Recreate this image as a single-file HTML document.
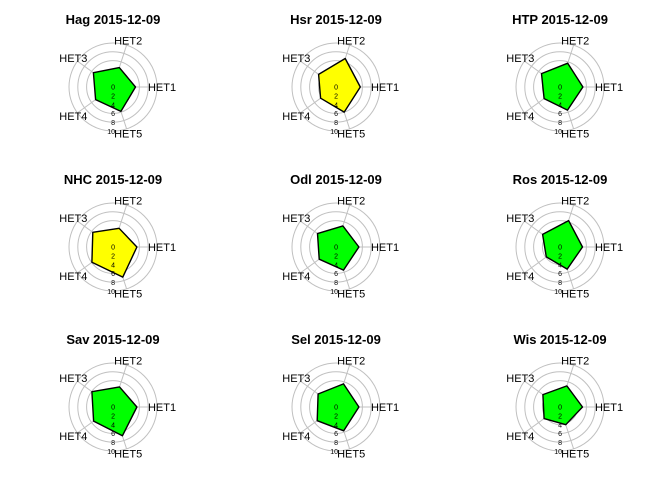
<!DOCTYPE html>
<html><head><meta charset="utf-8"><style>
html,body{margin:0;padding:0;background:#fff;}
svg{display:block;font-family:"Liberation Sans",sans-serif;}
</style></head><body>
<svg id="chart" width="672" height="480" viewBox="0 0 672 480"></svg>
<script>
const sites = ["Hag","Hsr","HTP","NHC","Odl","Ros","Sav","Sel","Wis"];
const dateLabel = "2015-12-09";
const axes = ["HET1","HET2","HET3","HET4","HET5"];
const ringTicks = ["0","2","4","6","8","10"];
const valHag = [3.9,3.3,4.4,3.6,4.8];
const valHsr = [4.4,6.0,3.6,2.9,5.0];
const valHTP = [4.0,4.6,4.0,3.1,4.4];
const valNHC = [4.3,3.1,4.6,4.9,6.5];
const valOdl = [4.0,3.8,4.0,3.4,4.4];
const valRos = [3.9,5.4,3.6,2.3,4.1];
const valSav = [4.3,3.5,4.9,4.3,6.1];
const valSel = [4.0,4.4,3.8,4.1,4.6];
const valWis = [3.9,3.8,3.5,3.1,2.8];
const alerts = ["ok","warn","ok","warn","ok","ok","ok","ok","ok"];
const vmax = 10, seg = 4;

const all = [valHag,valHsr,valHTP,valNHC,valOdl,valRos,valSav,valSel,valWis];
const NS = "http://www.w3.org/2000/svg";
const svg = document.getElementById("chart");
const colX = [113,336,560], rowY = [87,247,407], R = 44;
function mk(tag, attrs, parent){const e=document.createElementNS(NS,tag);for(const k in attrs)e.setAttribute(k,attrs[k]);parent.appendChild(e);return e;}
function rad(v){return R*((1+ (v/vmax)*seg)/(seg+1));}
function ang(i){return i*2*Math.PI/axes.length;}

sites.forEach((s,k)=>{
  const cx = colX[k%3], cy = rowY[Math.floor(k/3)];
  const g = mk("g",{},svg);
  
  
  const t = mk("text",{x:cx,y:cy-63,"text-anchor":"middle","font-size":"13","font-weight":"bold",fill:"#000"},g);
  t.textContent = s+" "+dateLabel;
  
  
  for(let j=0;j<=seg;j++){
    const c = mk("circle",{cx:cx,cy:cy,r:R*(j+1)/(seg+1),fill:"none",stroke:"#c0c0c0","stroke-width":"1"},g);
    
    
  }
  axes.forEach((a,i)=>{
    const th = ang(i);
    const l = mk("line",{x1:cx+R/(seg+1)*Math.cos(th),y1:cy-R/(seg+1)*Math.sin(th),x2:cx+R*Math.cos(th),y2:cy-R*Math.sin(th),stroke:"#c0c0c0","stroke-width":"1"},g);
    
    
  });
  const vals = all[k];
  const pts = vals.map((v,i)=>{const r=rad(v),th=ang(i);return (cx+r*Math.cos(th)).toFixed(1)+","+(cy-r*Math.sin(th)).toFixed(1);}).join(" ");
  const p = mk("polygon",{points:pts,fill:alerts[k]==="warn"?"#ffff00":"#00ff00",stroke:"#000","stroke-width":"1.4","stroke-linejoin":"round"},g);
  
  
  ringTicks.forEach((tk,j)=>{
    const tt = mk("text",{x:cx+2,y:cy+2.5+j*8.9,"text-anchor":"end","font-size":"7",fill:"#000"},g);
    tt.textContent = tk;
    
    
  });
  axes.forEach((a,i)=>{
    const th = ang(i), lr = 49;
    const at = mk("text",{x:cx+lr*Math.cos(th),y:cy-lr*Math.sin(th)+4,"text-anchor":"middle","font-size":"11",fill:"#000"},g);
    at.textContent = a;
    
    
  });
});
</script>
</body></html>
